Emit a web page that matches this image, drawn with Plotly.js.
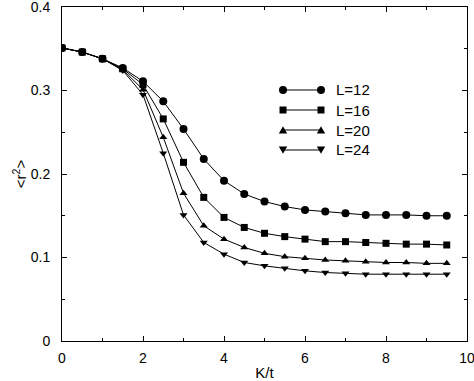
<!DOCTYPE html>
<html>
<head>
<meta charset="utf-8">
<script src="https://cdn.plot.ly/plotly-3.0.1.min.js"></script>
<style>html,body{margin:0;padding:0;background:#fff;}#chart{width:474px;height:381px;}</style>
</head>
<body>
<div id="chart"></div>
<script>
const kt = [0, 0.5, 1, 1.5, 2, 2.5, 3, 3.5, 4, 4.5, 5, 5.5, 6, 6.5, 7, 7.5, 8, 8.5, 9, 9.5];
const L12 = [0.351, 0.346, 0.338, 0.327, 0.311, 0.287, 0.254, 0.218, 0.192, 0.176, 0.167, 0.161, 0.157, 0.155, 0.153, 0.151, 0.151, 0.151, 0.150, 0.150];
const L16 = [0.351, 0.346, 0.338, 0.326, 0.307, 0.266, 0.214, 0.172, 0.148, 0.136, 0.129, 0.125, 0.122, 0.119, 0.119, 0.118, 0.117, 0.116, 0.116, 0.115];
const L20 = [0.351, 0.346, 0.338, 0.325, 0.301, 0.244, 0.177, 0.138, 0.122, 0.112, 0.105, 0.101, 0.099, 0.097, 0.096, 0.095, 0.094, 0.094, 0.093, 0.093];
const L24 = [0.351, 0.346, 0.338, 0.324, 0.295, 0.225, 0.151, 0.118, 0.104, 0.094, 0.090, 0.087, 0.084, 0.082, 0.081, 0.080, 0.080, 0.080, 0.080, 0.080];
const names = ['L=12', 'L=16', 'L=20', 'L=24'];
const series = [L12, L16, L20, L24];
const symbols = ['circle', 'square', 'triangle-up', 'triangle-down'];

const traces = series.map((ys, i) => ({
  x: kt, y: ys, name: names[i], type: 'scatter', mode: 'lines+markers',
  line: {color: '#000', width: 1},
  marker: {color: '#000', symbol: symbols[i], size: i === 0 ? 8 : 7},
  showlegend: false
}));

// Legend drawn as layout decoration (markers at both ends of the sample line)
const legX0 = 0.5457, legX1 = 0.6395, legTextX = 0.672;
const legY = [0.7515, 0.6916, 0.6317, 0.5719];
const markerPaths = [
  null,
  'M -3.5,-3.5 L 3.5,-3.5 L 3.5,3.5 L -3.5,3.5 Z',
  'M -4.2,-3.6 L 4.2,-3.6 L 0,3.8 Z',
  'M -4.2,3.6 L 4.2,3.6 L 0,-3.8 Z'
];
const shapes = [];
const annotations = [];
names.forEach((nm, i) => {
  const y = legY[i];
  shapes.push({type: 'line', xref: 'paper', yref: 'paper', x0: legX0, x1: legX1, y0: y, y1: y,
               line: {color: '#000', width: 1}});
  [legX0, legX1].forEach(xa => {
    if (i === 0) {
      shapes.push({type: 'circle', xref: 'paper', yref: 'paper', xsizemode: 'pixel', ysizemode: 'pixel',
                   xanchor: xa, yanchor: y, x0: -4, x1: 4, y0: -4, y1: 4,
                   fillcolor: '#000', line: {color: '#000', width: 0}});
    } else {
      shapes.push({type: 'path', xref: 'paper', yref: 'paper', xsizemode: 'pixel', ysizemode: 'pixel',
                   xanchor: xa, yanchor: y, path: markerPaths[i],
                   fillcolor: '#000', line: {color: '#000', width: 0}});
    }
  });
  annotations.push({xref: 'paper', yref: 'paper', x: legTextX, y: y, text: nm, showarrow: false,
                    xanchor: 'left', yanchor: 'middle',
                    font: {family: 'Liberation Sans, Arial, sans-serif', size: 15, color: '#000'}});
});

const font = {family: 'Liberation Sans, Arial, sans-serif', size: 14, color: '#000'};
const layout = {
  width: 474, height: 381,
  margin: {l: 62, r: 7, t: 7, b: 40},
  paper_bgcolor: '#fff', plot_bgcolor: '#fff',
  font: font,
  showlegend: false,
  shapes: shapes,
  annotations: annotations,
  xaxis: {
    range: [0, 10], dtick: 2, tick0: 0,
    showgrid: false, zeroline: false,
    showline: true, linecolor: '#000', linewidth: 1, mirror: 'ticks',
    ticks: 'inside', ticklen: 5, tickcolor: '#000',
    minor: {ticks: 'inside', dtick: 1, ticklen: 3, tickcolor: '#000'},
    ticklabelstandoff: 4, ticklabeloverflow: 'allow',
    title: {text: 'K/t', font: {family: 'Liberation Sans, Arial, sans-serif', size: 15, color: '#000'}, standoff: 5}
  },
  yaxis: {
    range: [0, 0.4], dtick: 0.1, tick0: 0,
    showgrid: false, zeroline: false,
    showline: true, linecolor: '#000', linewidth: 1, mirror: 'ticks',
    ticks: 'inside', ticklen: 5, tickcolor: '#000',
    minor: {ticks: 'inside', dtick: 0.05, ticklen: 3, tickcolor: '#000'},
    ticklabelstandoff: 8, ticklabeloverflow: 'allow',
    title: {text: '<r<sup>2</sup>>', font: {family: 'Liberation Sans, Arial, sans-serif', size: 15, color: '#000'}, standoff: 0}
  }
};
Plotly.newPlot('chart', traces, layout, {staticPlot: true, displayModeBar: false});
</script>
</body>
</html>
